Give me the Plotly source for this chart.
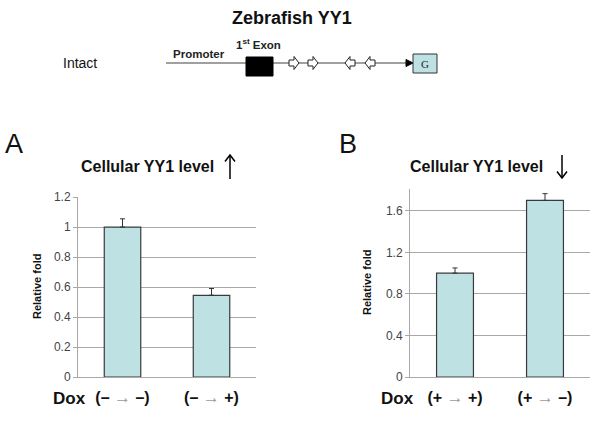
import plotly.graph_objects as go

# ---------------- data ----------------
cats_a = ["(– → –)", "(– → +)"]
vals_a = [1.0, 0.545]
err_a = [0.055, 0.045]

cats_b = ["(+ → +)", "(+ → –)"]
vals_b = [1.0, 1.70]
err_b = [0.05, 0.065]

yticks_a = [0, 0.2, 0.4, 0.6, 0.8, 1.0, 1.2]
yticks_b = [0, 0.4, 0.8, 1.2, 1.6]

W, H = 600, 421
FONT = "Arial, Liberation Sans, sans-serif"
BAR_FILL = "#BEE1E4"
BAR_LINE = "#3a3a3a"
GRID = "#A8A8A8"


def px(x):
    return x / W


def py(y):
    return 1 - y / H


def rich(label):
    a, b = label.split(" → ")
    return ("<b>%s</b> <span style='color:#9a9a9a;font-size:17px'>→</span> <b>%s</b>" % (a, b))


fig = go.Figure()

for cats, vals, err, xa, ya in [(cats_a, vals_a, err_a, "x", "y"), (cats_b, vals_b, err_b, "x2", "y2")]:
    fig.add_trace(go.Bar(
        x=[rich(c) for c in cats], y=vals, xaxis=xa, yaxis=ya, width=0.41,
        marker=dict(color=BAR_FILL, line=dict(color=BAR_LINE, width=1.2)),
        error_y=dict(type="data", symmetric=False, array=err, arrayminus=[0] * len(err),
                     color="#333333", thickness=1, width=2.5),
        showlegend=False,
    ))

axis_common = dict(showline=True, linecolor=GRID, linewidth=1, ticks="",
                   tickfont=dict(family=FONT, size=16, color="#111"), ticklabelstandoff=6,
                   automargin=False)
yaxis_common = dict(showline=True, linecolor=GRID, linewidth=1, showgrid=True, gridcolor=GRID,
                    gridwidth=1, ticks="outside", ticklen=4, tickcolor=GRID, zeroline=False,
                    tickfont=dict(family=FONT, size=12, color="#444"), automargin=False)

fig.update_layout(
    width=W, height=H, margin=dict(l=0, r=0, t=0, b=0, pad=0, autoexpand=False),
    paper_bgcolor="white", plot_bgcolor="white", bargap=0.59,
    xaxis=dict(domain=[px(78), px(256)], anchor="y", range=[-0.5, 1.5], **axis_common),
    yaxis=dict(domain=[py(377), py(197)], anchor="x", range=[0, 1.2005], tickvals=yticks_a,
               **yaxis_common),
    xaxis2=dict(domain=[px(410), px(590)], anchor="y2", range=[-0.5, 1.5], **axis_common),
    yaxis2=dict(domain=[py(377), py(189)], anchor="x2", range=[0, 1.81], tickvals=yticks_b,
                **yaxis_common),
)

ann = []


def text(x, y, s, size, bold=False, family=FONT, color="#111", angle=0, xanchor="center"):
    ann.append(dict(x=px(x), y=py(y), xref="paper", yref="paper", showarrow=False,
                    text=("<b>%s</b>" % s) if bold else s, textangle=angle, xanchor=xanchor,
                    yanchor="middle", font=dict(family=family, size=size, color=color)))


# diagram texts
text(292, 18, "Zebrafish YY1", 18, bold=True)
text(80, 63, "Intact", 14, bold=False)
text(199, 54, "Promoter", 11.5, bold=True, color="#222")
text(258, 44, "1<sup>st</sup> Exon", 11.5, bold=True, color="#222")
text(425, 64, "G", 11, family="Times New Roman, Liberation Serif, serif", color="#222")

# panel labels
text(14, 144, "A", 27, color="#111")
text(348, 144, "B", 27, color="#111")

# panel titles
text(147, 166, "Cellular YY1 level", 16, bold=True)
text(476, 166, "Cellular YY1 level", 16, bold=True)

# y titles
text(37, 287, "Relative fold", 11, bold=True, angle=-90)
text(367, 283, "Relative fold", 11, bold=True, angle=-90)

# Dox labels
text(69, 398, "Dox", 17, bold=True)
text(397, 398, "Dox", 17, bold=True)

fig.update_layout(annotations=ann)

shapes = []


def path(d, fill=None, color="#000", width=1):
    shapes.append(dict(type="path", xref="paper", yref="paper", path=d,
                       fillcolor=fill if fill else "rgba(0,0,0,0)",
                       line=dict(color=color, width=width)))


def P(pts, close=False):
    s = "M " + " L ".join("%.5f,%.5f" % (px(x), py(y)) for x, y in pts)
    return s + (" Z" if close else "")


# main line of construct
path(P([(166, 63), (408, 63)]), color="#808080", width=1.5)
# arrowhead
path(P([(406, 59.5), (413, 63), (406, 66.5)], close=True), fill="#000", color="#000", width=1)
# black exon box
shapes.append(dict(type="rect", xref="paper", yref="paper", x0=px(246), x1=px(273),
                   y0=py(76), y1=py(57), fillcolor="#000", line=dict(color="#000", width=1)))
# G box
shapes.append(dict(type="rect", xref="paper", yref="paper", x0=px(413), x1=px(437),
                   y0=py(73), y1=py(54), fillcolor="#BEE1E4", line=dict(color="#333", width=1)))


def block_arrow(x0, yc, right=True, w=10, bh=3, hh=6.5):
    if right:
        pts = [(x0, yc - bh), (x0 + w * 0.5, yc - bh), (x0 + w * 0.5, yc - hh), (x0 + w, yc),
               (x0 + w * 0.5, yc + hh), (x0 + w * 0.5, yc + bh), (x0, yc + bh)]
    else:
        xe = x0 + w
        pts = [(xe, yc - bh), (xe - w * 0.5, yc - bh), (xe - w * 0.5, yc - hh), (x0, yc),
               (xe - w * 0.5, yc + hh), (xe - w * 0.5, yc + bh), (xe, yc + bh)]
    path(P(pts, close=True), fill="#fff", color="#222", width=1)


block_arrow(289, 63, True)
block_arrow(308, 63, True)
block_arrow(345, 63, False)
block_arrow(365, 63, False)

# title arrows
path(P([(230, 155), (230, 179)]), color="#000", width=1.5)
path(P([(225, 161.5), (230, 155), (235, 161.5)]), color="#000", width=1.5)
path(P([(562, 155), (562, 178)]), color="#000", width=1.5)
path(P([(557, 171.5), (562, 178), (567, 171.5)]), color="#000", width=1.5)

fig.update_layout(shapes=shapes)

fig.write_html("out.html", config={"displayModeBar": False},
               post_script="document.body.style.margin='0';document.body.style.padding='0';document.body.style.overflow='hidden';")
